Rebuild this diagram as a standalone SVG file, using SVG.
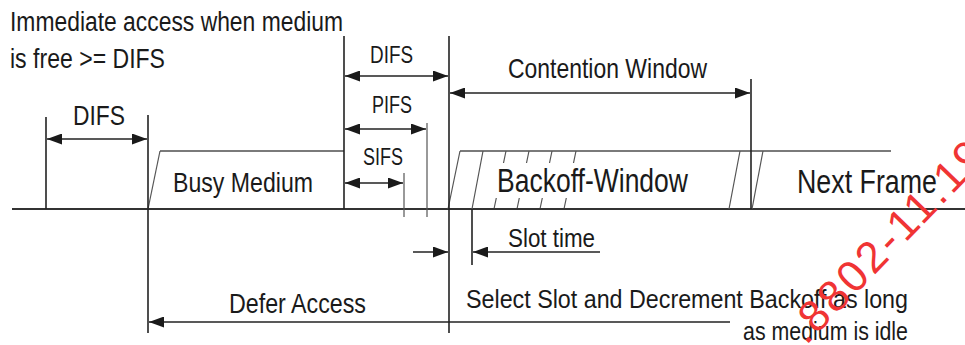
<svg xmlns="http://www.w3.org/2000/svg" width="965" height="345" viewBox="0 0 965 345">
<defs>
<style>
.t{font-family:"Liberation Sans Narrow","Liberation Sans",Arial,sans-serif;fill:#1a1a1a}
.ln{stroke:#222;stroke-width:1.6;fill:none}
.thin{stroke:#555;stroke-width:1.2;fill:none}
.box{stroke:#7a7a7a;stroke-width:2;fill:none}
.base{stroke:#333;stroke-width:2;fill:none}
.wm{font-family:"Liberation Sans",Arial,sans-serif;fill:#f03434;font-size:44px;letter-spacing:3px}
</style>
<marker id="ah" viewBox="0 0 15 11" refX="15" refY="5.5" markerWidth="15" markerHeight="11" markerUnits="userSpaceOnUse" orient="auto-start-reverse">
<path d="M0,0 L15,5.5 L0,11 Z" fill="#1a1a1a"/>
</marker>
</defs>
<rect width="965" height="345" fill="#fff"/>

<g id="timeline">
<line class="base" x1="12" y1="209" x2="965" y2="209"/>
</g>

<g id="busy-medium">
<polyline class="box" points="344,151 160,151"/>
<line class="thin" x1="160" y1="151" x2="148" y2="209"/>
<text class="t" x="173" y="192" font-size="28" textLength="140" lengthAdjust="spacingAndGlyphs">Busy Medium</text>
</g>

<g id="backoff-window">
<line class="box" x1="460" y1="151" x2="891" y2="151"/>
<path class="thin" d="M460,151 L448,209 M483,151 L472,209 M506,151 L503.5,163 M529,151 L526.5,163 M552,151 L549.5,163 M576,151 L573.5,163 M496.3,198 L494.2,208 M519.3,198 L517.2,208 M542.3,198 L540.2,208 M566.3,198 L564.2,208 M740,151 L729,209"/>
<text class="t" x="497" y="192" font-size="34" textLength="191" lengthAdjust="spacingAndGlyphs">Backoff-Window</text>
</g>

<g id="next-frame">
<line class="thin" x1="763" y1="151" x2="752" y2="209"/>
<text class="t" x="797" y="193" font-size="33" textLength="140" lengthAdjust="spacingAndGlyphs">Next Frame</text>
</g>

<g id="labels">
<text class="t" x="10" y="31" font-size="27" textLength="333" lengthAdjust="spacingAndGlyphs">Immediate access when medium</text>
<text class="t" x="10" y="68" font-size="27" textLength="155" lengthAdjust="spacingAndGlyphs">is free &gt;= DIFS</text>
<text class="t" x="73" y="125" font-size="27" textLength="52" lengthAdjust="spacingAndGlyphs">DIFS</text>
<text class="t" x="370" y="63" font-size="23" textLength="43" lengthAdjust="spacingAndGlyphs">DIFS</text>
<text class="t" x="372" y="113" font-size="23" textLength="40" lengthAdjust="spacingAndGlyphs">PIFS</text>
<text class="t" x="363" y="165" font-size="23" textLength="40" lengthAdjust="spacingAndGlyphs">SIFS</text>
<text class="t" x="508" y="78" font-size="28" textLength="199" lengthAdjust="spacingAndGlyphs">Contention Window</text>
<text class="t" x="508" y="247" font-size="26" textLength="87" lengthAdjust="spacingAndGlyphs">Slot time</text>
<text class="t" x="229" y="313" font-size="27" textLength="137" lengthAdjust="spacingAndGlyphs">Defer Access</text>
<text class="t" x="466" y="308" font-size="26" textLength="442" lengthAdjust="spacingAndGlyphs">Select Slot and Decrement Backoff as long</text>
<text class="t" x="743" y="340" font-size="26" textLength="165" lengthAdjust="spacingAndGlyphs">as medium is idle</text>
</g>

<g id="connectors">
<line class="ln" x1="46" y1="117" x2="46" y2="209"/>
<line class="ln" x1="148" y1="115" x2="148" y2="333"/>
<line class="ln" x1="344" y1="36" x2="344" y2="209"/>
<line class="ln" x1="449" y1="36" x2="449" y2="333"/>
<line class="thin" x1="404" y1="173" x2="404" y2="217"/>
<line class="thin" x1="427" y1="123" x2="427" y2="217"/>
<line class="ln" x1="751" y1="79" x2="751" y2="209"/>
<line class="ln" x1="472" y1="209" x2="472" y2="265"/>
<line class="ln" x1="47" y1="139" x2="147" y2="139" marker-start="url(#ah)" marker-end="url(#ah)"/>
<line class="ln" x1="345" y1="76" x2="448" y2="76" marker-start="url(#ah)" marker-end="url(#ah)"/>
<line class="ln" x1="345" y1="129" x2="426" y2="129" marker-start="url(#ah)" marker-end="url(#ah)"/>
<line class="ln" x1="345" y1="183" x2="403" y2="183" marker-start="url(#ah)" marker-end="url(#ah)"/>
<line class="ln" x1="450" y1="93" x2="750" y2="93" marker-start="url(#ah)" marker-end="url(#ah)"/>
<line class="ln" x1="413" y1="252" x2="448" y2="252" marker-end="url(#ah)"/>
<line class="ln" x1="600" y1="252" x2="473" y2="252" marker-end="url(#ah)"/>
<line class="ln" x1="730" y1="322" x2="149" y2="322" marker-end="url(#ah)"/>
</g>

<g id="watermark">
<text class="wm" transform="translate(806,346) rotate(-46)">.8802-11.19</text>
</g>
</svg>
